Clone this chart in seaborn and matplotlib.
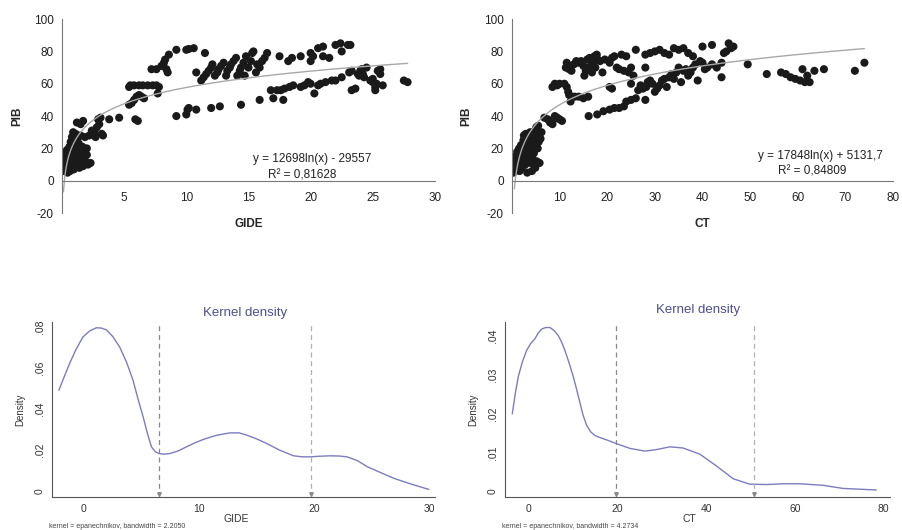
import numpy as np
import pandas as pd
import matplotlib
matplotlib.use("Agg")
import matplotlib.pyplot as plt
import seaborn as sns

# ---- scatter data ----
gide_x = [0.1, 0.1, 0.1, 0.1, 0.15, 0.2, 0.2, 0.25, 0.3, 0.3, 0.35, 0.4, 0.4, 0.45, 0.5, 0.5, 0.55, 0.6, 0.6,
          0.65, 0.7, 0.7, 0.75, 0.8, 0.8, 0.85, 0.9, 0.9, 0.95, 1.0, 1.0, 1.05, 1.1, 1.1, 1.15, 1.2, 1.2, 1.25,
          1.3, 1.35, 1.4, 1.4, 1.5, 1.5, 1.55, 1.6, 1.65, 1.7, 1.7, 1.8, 1.85, 1.9, 2.0, 2.0, 2.1, 2.2, 2.3, 2.4,
          2.6, 2.7, 2.8, 2.9, 3.0, 3.1, 3.2, 3.3,
          3.8, 4.6, 5.9, 6.1, 5.4, 5.6, 5.8, 6.0, 6.2, 6.4, 6.6, 5.4, 5.5, 5.8, 6.2, 6.5, 6.9, 7.3, 7.6, 7.8, 7.7,
          7.2, 7.6, 8.0, 8.2, 8.3, 8.5, 8.4, 8.6, 9.2, 10.0, 10.2, 10.6, 11.5, 9.2, 10.0, 10.1, 10.2, 10.8, 12.0,
          12.7, 14.4,
          10.8, 11.2, 11.4, 11.6, 11.8, 12.0, 12.1, 12.3, 12.5, 12.6, 12.8, 13.0, 13.2, 13.3, 13.5, 13.6, 13.8,
          14.0, 14.1, 14.3, 14.4, 14.6, 14.7, 14.8, 15.0, 15.2, 15.3, 15.4, 15.6, 15.7, 15.9, 16.1, 16.3, 16.5,
          17.5, 18.2, 18.5, 19.2, 20.0, 20.0, 20.2, 20.6, 21.0, 21.0, 21.5, 22.0, 22.4, 22.5, 23.0, 23.2,
          15.9, 16.8, 17.0, 17.3, 17.6, 17.8, 17.9, 18.3, 18.6, 19.2, 19.5, 19.8, 20.0, 20.3, 20.6, 20.8, 21.2,
          21.7, 22.0, 22.5, 23.1, 23.3, 23.3, 23.6, 23.8, 24.0, 24.1, 24.3, 24.5, 24.8, 25.0, 25.2, 25.2, 25.3,
          25.4, 25.6, 25.6, 25.8, 27.5, 27.8, 23.9, 24.2, 25.0]
gide_y = [15, 12, 10, 8, 6, 14, 17, 9, 11, 7, 13, 16, 19, 5, 8, 12, 18, 21, 10,
          6, 14, 24, 17, 9, 27, 20, 12, 30, 7, 15, 22, 25, 29, 18, 10, 13, 36, 26,
          16, 23, 8, 19, 35, 28, 11, 14, 21, 37, 9, 17, 27, 12, 20, 16, 10, 28, 11, 31,
          30, 27, 33, 38, 35, 39, 29, 28,
          38, 39, 38, 37, 47, 48, 50, 52, 53, 52, 51, 58, 59, 59, 59, 59, 59, 59, 59, 58, 54,
          69, 69, 71, 73, 75, 67, 69, 78, 81, 81, 81.5, 82, 79, 40, 41, 44, 45, 44, 45,
          46, 47,
          67, 62, 64, 66, 68, 70, 72, 65, 67, 69, 71, 73, 65, 68, 70, 72, 74,
          76, 65, 68, 70, 73, 65, 77, 70, 74, 79, 80, 67, 72, 70, 74, 76, 79,
          77, 74, 76, 77, 79, 74, 77, 82, 83, 77, 76, 84, 85, 80, 84, 84,
          50, 56, 51, 56, 56, 50, 57, 58, 59, 58, 59, 61, 60, 54, 59, 60, 61,
          62, 62, 64, 67, 68, 56, 57, 66, 68, 69, 64, 70, 62, 61, 58, 56, 60,
          68, 66, 69, 59, 62, 61, 65, 66, 63]

ct_x = [0.3, 0.4, 0.5, 0.6, 0.7, 0.8, 0.9, 1.0, 1.1, 1.2, 1.3, 1.4, 1.5, 1.6, 1.7, 1.8, 1.9, 2.0, 2.1, 2.2,
        2.3, 2.4, 2.5, 2.6, 2.7, 2.8, 2.9, 3.0, 3.1, 3.2, 3.3, 3.4, 3.5, 3.6, 3.7, 3.8, 3.9, 4.0, 4.1, 4.2,
        4.3, 4.4, 4.5, 4.6, 4.7, 4.8, 4.9, 5.0, 5.1, 5.2, 5.3, 5.4, 5.5, 5.6, 5.7, 5.8, 6.0, 6.2,
        6.8, 7.5, 8.0, 8.5, 8.8, 9.0, 9.5, 10.0, 10.5,
        8.5, 9.0, 9.5, 10.0, 11.0, 11.5, 11.8, 12.0, 12.3, 12.6, 13.2, 14.0, 15.0, 16.0,
        11.3, 11.5, 11.8, 12.0, 12.5, 13.0, 13.5, 14.0, 14.5, 15.0, 15.2, 15.5, 15.8, 16.0, 16.3, 16.6, 16.8,
        17.0, 17.3, 17.5, 17.8, 18.0, 18.5, 19.0, 19.5, 20.5, 21.0, 21.5, 22.0, 22.5, 23.0, 23.5, 24.0, 24.5,
        25.0, 25.0, 25.5, 26.0, 28.0, 28.0, 29.0, 30.0, 31.0, 20.5, 21.0,
        16.1, 17.9, 19.2, 20.5, 21.5, 22.5, 23.5, 24.0, 25.0, 26.0, 26.5, 27.0, 27.5, 28.0, 28.2, 28.5, 29.0,
        29.5, 30.0, 30.5, 31.0, 31.5, 32.0, 32.5, 33.0, 33.5, 34.0, 34.5, 35.0, 35.5, 36.0, 36.5, 37.0, 37.5,
        38.0, 38.5, 39.0, 39.5, 40.0, 40.5, 41.0, 42.0, 43.0, 44.0, 44.0, 46.0, 45.5, 42.0, 40.0, 38.0, 37.0,
        36.0, 35.0, 34.0, 33.0, 32.0, 44.5, 45.0, 46.5,
        49.5, 53.5, 56.5, 57.5, 58.5, 59.5, 60.5, 61.0, 61.5, 62.0, 62.5, 63.5, 65.5, 72.0, 74.0]
ct_y = [5, 8, 12, 6, 15, 10, 7, 14, 18, 9, 12, 16, 20, 6, 11, 14, 22, 17, 8, 13,
        19, 25, 28, 15, 21, 10, 29, 18, 24, 5, 13, 20, 27, 16, 22, 30, 11, 19, 25, 6,
        14, 21, 28, 17, 23, 31, 8, 26, 33, 12, 29, 20, 34, 24, 27, 11, 26, 30,
        39, 38, 36, 35, 38, 40, 39, 38, 37,
        58, 60, 59, 60, 60, 58, 55, 53, 49, 52, 52, 52, 51, 52,
        70, 73, 71, 69, 68, 72, 74, 73, 74, 71, 65, 68, 75, 70, 76, 74, 67,
        72, 77, 70, 78, 75, 74, 67, 75, 73, 76, 77, 70, 69, 78, 68, 77, 67,
        70, 60, 65, 81, 78, 70, 79, 80, 81, 58, 57,
        40, 41, 43, 44, 45, 45, 46, 49, 50, 51, 56, 59, 57, 50, 58, 61, 62,
        60, 55, 57, 59, 62, 63, 58, 64, 66, 63, 67, 70, 61, 68, 69, 65, 67,
        70, 72, 62, 74, 73, 69, 70, 72, 70, 64, 73, 82, 85, 84, 83, 77, 79,
        82, 81, 82, 78, 79, 79, 80, 83,
        72, 66, 67, 66, 64, 63, 62, 69, 61, 65, 61, 68, 69, 68, 73]

# ---- kernel density curves ----
kd_gide_x = [-2.18, -1.7, -1.25, -0.7, -0.09, 0.5, 1.08, 1.5, 1.95, 2.5, 3.11, 3.7, 4.27, 4.7, 5.15, 5.5,
             5.87, 6.2, 6.54, 7.0, 7.47, 8.2, 8.92, 9.6, 10.38, 11.5, 12.70, 13.5, 14.16, 15.0, 15.90, 17.0,
             18.23, 19.0, 19.68, 20.5, 21.42, 22.2, 22.88, 23.8, 24.62, 25.8, 26.95, 28.5, 29.99]
kd_gide_y = [0.0492, 0.0560, 0.0622, 0.0690, 0.0752, 0.0782, 0.0797, 0.0796, 0.0787, 0.0755, 0.0703, 0.0630,
             0.0541, 0.0450, 0.0362, 0.0285, 0.0216, 0.0192, 0.0183, 0.0180, 0.0183, 0.0196, 0.0216, 0.0234,
             0.0252, 0.0272, 0.0284, 0.0284, 0.0273, 0.0255, 0.0232, 0.0200, 0.0172, 0.0167, 0.0167, 0.0170,
             0.0172, 0.0171, 0.0167, 0.0148, 0.0119, 0.0090, 0.0062, 0.0033, 0.0008]
kd_ct_x = [-3.76, -3.1, -2.4, -1.5, -0.53, 0.4, 1.35, 2.1, 2.86, 3.8, 4.74, 5.7, 6.62, 7.4, 8.12, 9.0, 10.0,
           10.8, 11.5, 12.2, 13.0, 13.9, 14.9, 16.0, 17.5, 19.8, 22.8, 26.2, 28.8, 31.8, 34.8, 38.6, 42.3,
           46.1, 49.8, 53.6, 57.4, 61.1, 66.4, 70.9, 78.4]
kd_ct_y = [0.0199, 0.0250, 0.0295, 0.0332, 0.0362, 0.0380, 0.0392, 0.0407, 0.0417, 0.0421, 0.0421, 0.0413,
           0.0400, 0.0383, 0.0362, 0.0332, 0.0295, 0.0260, 0.0228, 0.0196, 0.0170, 0.0153, 0.0143, 0.0138,
           0.0132, 0.0122, 0.0110, 0.0103, 0.0107, 0.0114, 0.0111, 0.0095, 0.0065, 0.0032, 0.0018, 0.0017,
           0.0019, 0.0019, 0.0015, 0.0007, 0.0003]
gide_cuts = [6.55, 19.7]
ct_cuts = [19.6, 50.8]

sns.set_style("white")
plt.rcParams['font.family'] = ['Liberation Sans', 'DejaVu Sans']
plt.rcParams['axes.unicode_minus'] = False

fig = plt.figure(figsize=(9.02, 5.30), dpi=100)


def scatter_panel(rect, x, y, xlim, xticks, xlabel, eq1, eq1_pos, eq2, eq2_pos):
    ax = fig.add_axes(rect)
    df = pd.DataFrame({'x': x, 'y': y})
    sns.scatterplot(data=df, x='x', y='y', ax=ax, color='#1a1a1a', s=34, edgecolor='none', linewidth=0)
    # log trend line fitted on the points
    a, b = np.polyfit(np.log(df['x']), df['y'], 1)
    xs = np.linspace(0.12 if xlim[1] < 50 else 0.5, max(x), 300)
    sns.lineplot(x=xs, y=a * np.log(xs) + b, ax=ax, color='#a8a8a8', lw=1)
    ax.set_xlim(*xlim)
    ax.set_ylim(-20, 100)
    ax.set_yticks(range(-20, 101, 20))
    ax.set_xticks(xticks)
    for s in ['top', 'right']:
        ax.spines[s].set_visible(False)
    ax.spines['bottom'].set_position(('data', 0))
    ax.spines['left'].set_color('#777777')
    ax.spines['bottom'].set_color('#777777')
    ax.tick_params(axis='both', length=3, width=0.8, color='#777777', labelsize=8.5,
                   labelcolor='#222222', direction='out', pad=3)
    ax.tick_params(axis='x', pad=5)
    ax.set_xlabel(xlabel, fontsize=8.5, fontweight='bold', labelpad=0)
    ax.xaxis.set_label_coords(0.5, -0.025)
    ax.set_ylabel('PIB', fontsize=8.5, fontweight='bold')
    ax.yaxis.set_label_coords(-0.105, 0.5)
    ax.text(eq1_pos[0], eq1_pos[1], eq1, fontsize=8.5, color='#222222', ha='center', va='center')
    ax.text(eq2_pos[0], eq2_pos[1], eq2, fontsize=8.5, color='#222222', ha='center', va='center')
    return ax


def density_panel(rect, x, y, cuts, xlim, ylim, xticks, yticks, ylabels, xlabel, note, title_x, title_y):
    ax = fig.add_axes(rect)
    sns.lineplot(x=x, y=y, ax=ax, sort=False, color='#7c7cc0', lw=1)
    for i, c in enumerate(cuts):
        ax.axvline(c, color='#888888' if i == 0 else '#b0b0b0', lw=0.9, ls=(0, (4, 3)))
        ax.plot([c], [ylim[0] + 0.0012 * (ylim[1] / 0.08)], marker='v', ms=2.5, color='#888888')
    ax.set_xlim(*xlim)
    ax.set_ylim(*ylim)
    ax.set_xticks(xticks)
    ax.set_yticks(yticks)
    ax.set_yticklabels(ylabels, rotation=90, va='center')
    for s in ['top', 'right']:
        ax.spines[s].set_visible(False)
    ax.spines['left'].set_color('#555555')
    ax.spines['bottom'].set_color('#555555')
    ax.spines['left'].set_linewidth(0.8)
    ax.spines['bottom'].set_linewidth(0.8)
    ax.tick_params(axis='both', length=3, width=0.7, color='#555555', labelsize=7.5,
                   labelcolor='#333333', direction='out', pad=2)
    ax.set_xlabel(xlabel, fontsize=7.5, color='#333333', labelpad=0)
    ax.xaxis.set_label_coords(0.48, -0.1)
    ax.set_ylabel('Density', fontsize=7, color='#333333')
    ax.yaxis.set_label_coords(-0.07, 0.5)
    fig.text(title_x, title_y, 'Kernel density', fontsize=9.5, color='#4e4e90', ha='center', va='center')
    fig.text(rect[0] - 0.003, 0.0, note, fontsize=5, color='#444444', ha='left', va='bottom')
    return ax


scatter_panel([0.0687, 0.598, 0.4135, 0.366], gide_x, gide_y, (0, 30), range(5, 31, 5), 'GIDE',
              'y = 12698ln(x) - 29557', (20.1, 13.5), 'R² = 0,81628', (19.3, 3.3))
scatter_panel([0.5676, 0.598, 0.4224, 0.366], ct_x, ct_y, (0, 80), range(10, 81, 10), 'CT',
              'y = 17848ln(x) + 5131,7', (64.8, 15), 'R² = 0,84809', (63.0, 5.5))

density_panel([0.0576, 0.0623, 0.4246, 0.330], kd_gide_x, kd_gide_y, gide_cuts,
              (-2.78, 30.52), (-0.0029, 0.0825), [0, 10, 20, 30],
              [0, 0.02, 0.04, 0.06, 0.08], ['0', '.02', '.04', '.06', '.08'], 'GIDE',
              'kernel = epanechnikov, bandwidth = 2.2050', 0.272, 0.409)
density_panel([0.5599, 0.0623, 0.4268, 0.330], kd_ct_x, kd_ct_y, ct_cuts,
              (-5.4, 81.5), (-0.0015, 0.0435), [0, 20, 40, 60, 80],
              [0, 0.01, 0.02, 0.03, 0.04], ['0', '.01', '.02', '.03', '.04'], 'CT',
              'kernel = epanechnikov, bandwidth = 4.2734', 0.774, 0.416)

fig.savefig('out.png', dpi=100)
